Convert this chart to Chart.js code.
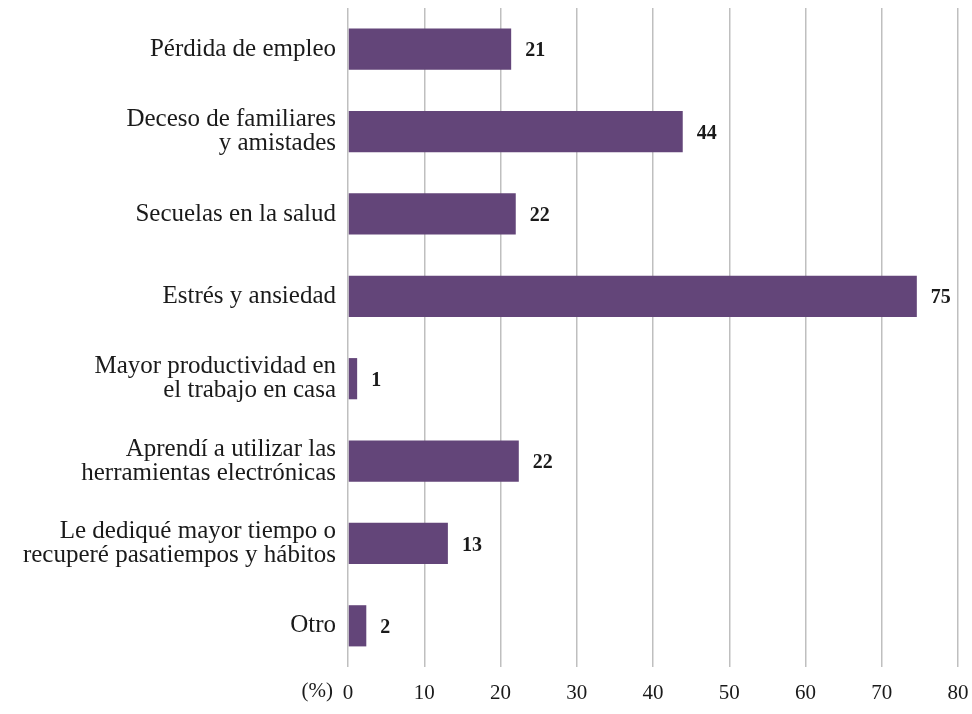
<!DOCTYPE html>
<html>
<head>
<meta charset="utf-8">
<script src="https://cdn.jsdelivr.net/npm/chart.js@4.4.1/dist/chart.umd.min.js"></script>
<style>
  html, body { margin: 0; padding: 0; background: #fff; }
  #wrap { width: 972px; height: 714px; }
</style>
</head>
<body>
<div id="wrap"><canvas id="impacto-chart"></canvas></div>
<script>
const categories = [
  "Pérdida de empleo",
  ["Deceso de familiares", "y amistades"],
  "Secuelas en la salud",
  "Estrés y ansiedad",
  ["Mayor productividad en", "el trabajo en casa"],
  ["Aprendí a utilizar las", "herramientas electrónicas"],
  ["Le dediqué mayor tiempo o", "recuperé pasatiempos y hábitos"],
  "Otro"
];
const values = [21.4, 43.9, 22.0, 74.6, 1.2, 22.4, 13.1, 2.4];
const valueLabels = ["21", "44", "22", "75", "1", "22", "13", "2"];
const xTicks = [0, 10, 20, 30, 40, 50, 60, 70, 80];

const serif = "'Liberation Serif', 'Times New Roman', serif";

const barLabels = {
  id: "barLabels",
  afterDatasetsDraw(chart) {
    const ctx = chart.ctx;
    const meta = chart.getDatasetMeta(0);
    ctx.save();
    ctx.font = "bold 20px " + serif;
    ctx.fillStyle = "#1a1a1a";
    ctx.textAlign = "left";
    ctx.textBaseline = "middle";
    meta.data.forEach((bar, i) => {
      ctx.fillText(valueLabels[i], bar.x + 14, bar.y + 2);
    });
    // unit label left of the zero tick
    const xs = chart.scales.x;
    ctx.font = "21px " + serif;
    ctx.textAlign = "right";
    ctx.textBaseline = "top";
    ctx.fillText("(%)", xs.getPixelForValue(0) - 15, xs.top + 14);
    ctx.restore();
  }
};

const chart = new Chart("impacto-chart", {
  type: "bar",
  data: {
    labels: categories,
    datasets: [{
      data: values,
      backgroundColor: "#634579",
      borderWidth: 0,
      barPercentage: 0.5,
      categoryPercentage: 1.0
    }]
  },
  options: {
    indexAxis: "y",
    responsive: true,
    maintainAspectRatio: false,
    animation: false,
    layout: { padding: { top: 8, right: 14, left: 0, bottom: 0 } },
    plugins: {
      legend: { display: false },
      tooltip: { enabled: false }
    },
    scales: {
      x: {
        min: 0,
        max: 80,
        afterBuildTicks: (scale) => { scale.ticks = xTicks.map(v => ({ value: v })); },
        afterFit: (scale) => {
          scale.height = 47;
          scale.paddingLeft = 0;
          scale.paddingRight = 0;
        },
        grid: { color: "#bfbfbf", lineWidth: 1.5, drawTicks: false },
        border: { display: false },
        ticks: {
          color: "#1a1a1a",
          padding: 14,
          font: { family: serif, size: 21 }
        }
      },
      y: {
        afterFit: (scale) => {
          scale.width = 348;
          scale.paddingTop = 0;
          scale.paddingBottom = 0;
        },
        grid: { display: false, drawTicks: false },
        border: { display: false },
        ticks: {
          color: "#1a1a1a",
          padding: 12,
          font: { family: serif, size: 25, lineHeight: 0.96 }
        }
      }
    }
  },
  plugins: [barLabels]
});
</script>
</body>
</html>
